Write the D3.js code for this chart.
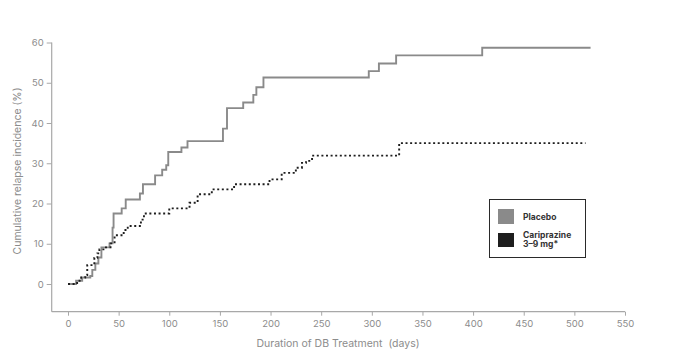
<!DOCTYPE html>
<html>
<head>
<meta charset="utf-8">
<script src="https://cdn.jsdelivr.net/npm/d3@7"></script>
<style>
  html, body { margin: 0; padding: 0; background: #fff; }
  svg { display: block; font-family: "Inter", "Roboto", "Noto Sans", sans-serif; }
</style>
</head>
<body>
<svg id="chart" width="674" height="358"></svg>
<script>
// ---- Data (Kaplan–Meier step points: [day, cumulative %]) ----
const placeboDays   = [0, 8, 14, 22, 24, 27, 30, 33, 41, 44, 45, 53, 57, 71, 74, 86, 93, 97, 99, 112, 118, 153, 157, 173, 183, 186, 193, 297, 307, 324, 409, 516];
const placeboValues = [0, 0.8, 1.6, 2.0, 3.5, 5.1, 6.6, 9.1, 10.1, 14, 17.5, 18.8, 21, 22.5, 24.8, 27, 28.4, 29.5, 32.8, 33.9, 35.5, 38.6, 43.7, 45.1, 47, 48.9, 51.3, 52.9, 54.8, 56.8, 58.7, 58.7];

const cariDays   = [0, 9, 13, 17, 19, 26, 29, 31, 35, 42, 46, 55, 59, 72, 75, 100, 120, 128, 142, 164, 199, 211, 225, 231, 235, 241, 327, 511];
const cariValues = [0, 0.8, 1.6, 2.2, 4.7, 6.5, 7.6, 8.6, 9.1, 10.1, 12.1, 13.4, 14.4, 16, 17.5, 18.8, 20.2, 22.3, 23.5, 24.8, 26, 27.6, 28.9, 30.1, 30.6, 31.9, 35, 35];

const xTicks = [0, 50, 100, 150, 200, 250, 300, 350, 400, 450, 500, 550];
const yTicks = [0, 10, 20, 30, 40, 50, 60];

const seriesNames = ["Placebo", "Cariprazine", "3–9 mg*"];
const xTitle = "Duration of DB Treatment  (days)";
const yTitle = "Cumulative relapse incidence (%)";

// ---- Layout ----
const svg = d3.select("#chart");
const x = d3.scaleLinear().domain([0, 550]).range([68, 625]);
const y = d3.scaleLinear().domain([0, 60]).range([284, 42.5]);
const axisY = 311.7, axisX = 51.7;
const axisColor = "#a8a8a8", textColor = "#8c8c8c";

// X axis
const gx = svg.append("g").attr("transform", `translate(0,${axisY})`)
  .call(d3.axisBottom(x).tickValues(xTicks).tickSize(4).tickPadding(5).tickSizeOuter(0));
gx.select(".domain").remove();
gx.append("line").attr("x1", axisX).attr("x2", x(550)).attr("stroke", axisColor).attr("stroke-width", 1.2);
gx.selectAll(".tick line").attr("stroke", axisColor);
gx.selectAll(".tick text").attr("fill", textColor).attr("font-size", 9.5).attr("font-family", "Inter, Roboto, sans-serif");

// Y axis
const gy = svg.append("g").attr("transform", `translate(${axisX},0)`)
  .call(d3.axisLeft(y).tickValues(yTicks).tickSize(5).tickPadding(3).tickSizeOuter(0));
gy.select(".domain").remove();
gy.append("line").attr("y1", y(60)).attr("y2", axisY).attr("stroke", axisColor).attr("stroke-width", 1.2);
gy.selectAll(".tick line").attr("stroke", axisColor);
gy.selectAll(".tick text").attr("fill", textColor).attr("font-size", 9.5).attr("font-family", "Inter, Roboto, sans-serif");

// Titles
svg.append("text").attr("x", 338).attr("y", 347).attr("text-anchor", "middle")
  .style("white-space", "pre")
  .attr("fill", textColor).attr("font-size", 10.5).text(xTitle);
svg.append("text").attr("transform", "translate(21,171) rotate(-90)").attr("text-anchor", "middle")
  .attr("fill", textColor).attr("font-size", 10.5).text(yTitle);

// Lines
const line = d3.line().x(d => x(d[0])).y(d => y(d[1])).curve(d3.curveStepAfter);
const placebo = placeboDays.map((d, i) => [d, placeboValues[i]]);
const cari = cariDays.map((d, i) => [d, cariValues[i]]);

svg.append("path").datum(placebo).attr("d", line)
  .attr("fill", "none").attr("stroke", "#8a8a8a").attr("stroke-width", 1.9);
svg.append("path").datum(cari).attr("d", line)
  .attr("fill", "none").attr("stroke", "#1e1e1e").attr("stroke-width", 1.9)
  .attr("stroke-dasharray", "2,2.6");

// Legend
const lg = svg.append("g");
lg.append("rect").attr("x", 489.5).attr("y", 199.5).attr("width", 96).attr("height", 58)
  .attr("fill", "#fff").attr("stroke", "#2a2a2a").attr("stroke-width", 1);
lg.append("rect").attr("x", 498).attr("y", 209).attr("width", 16).attr("height", 15).attr("fill", "#8a8a8a");
lg.append("rect").attr("x", 498).attr("y", 233).attr("width", 16).attr("height", 14).attr("fill", "#1e1e1e");
lg.append("text").attr("x", 523).attr("y", 219.5).attr("font-size", 8.5).attr("font-weight", "bold")
  .attr("fill", "#333").text(seriesNames[0]);
lg.append("text").attr("x", 523).attr("y", 238).attr("font-size", 8.5).attr("font-weight", "bold")
  .attr("fill", "#333").text(seriesNames[1]);
lg.append("text").attr("x", 523).attr("y", 246.5).attr("font-size", 8.5).attr("font-weight", "bold")
  .attr("fill", "#333").text(seriesNames[2]);
</script>
</body>
</html>
